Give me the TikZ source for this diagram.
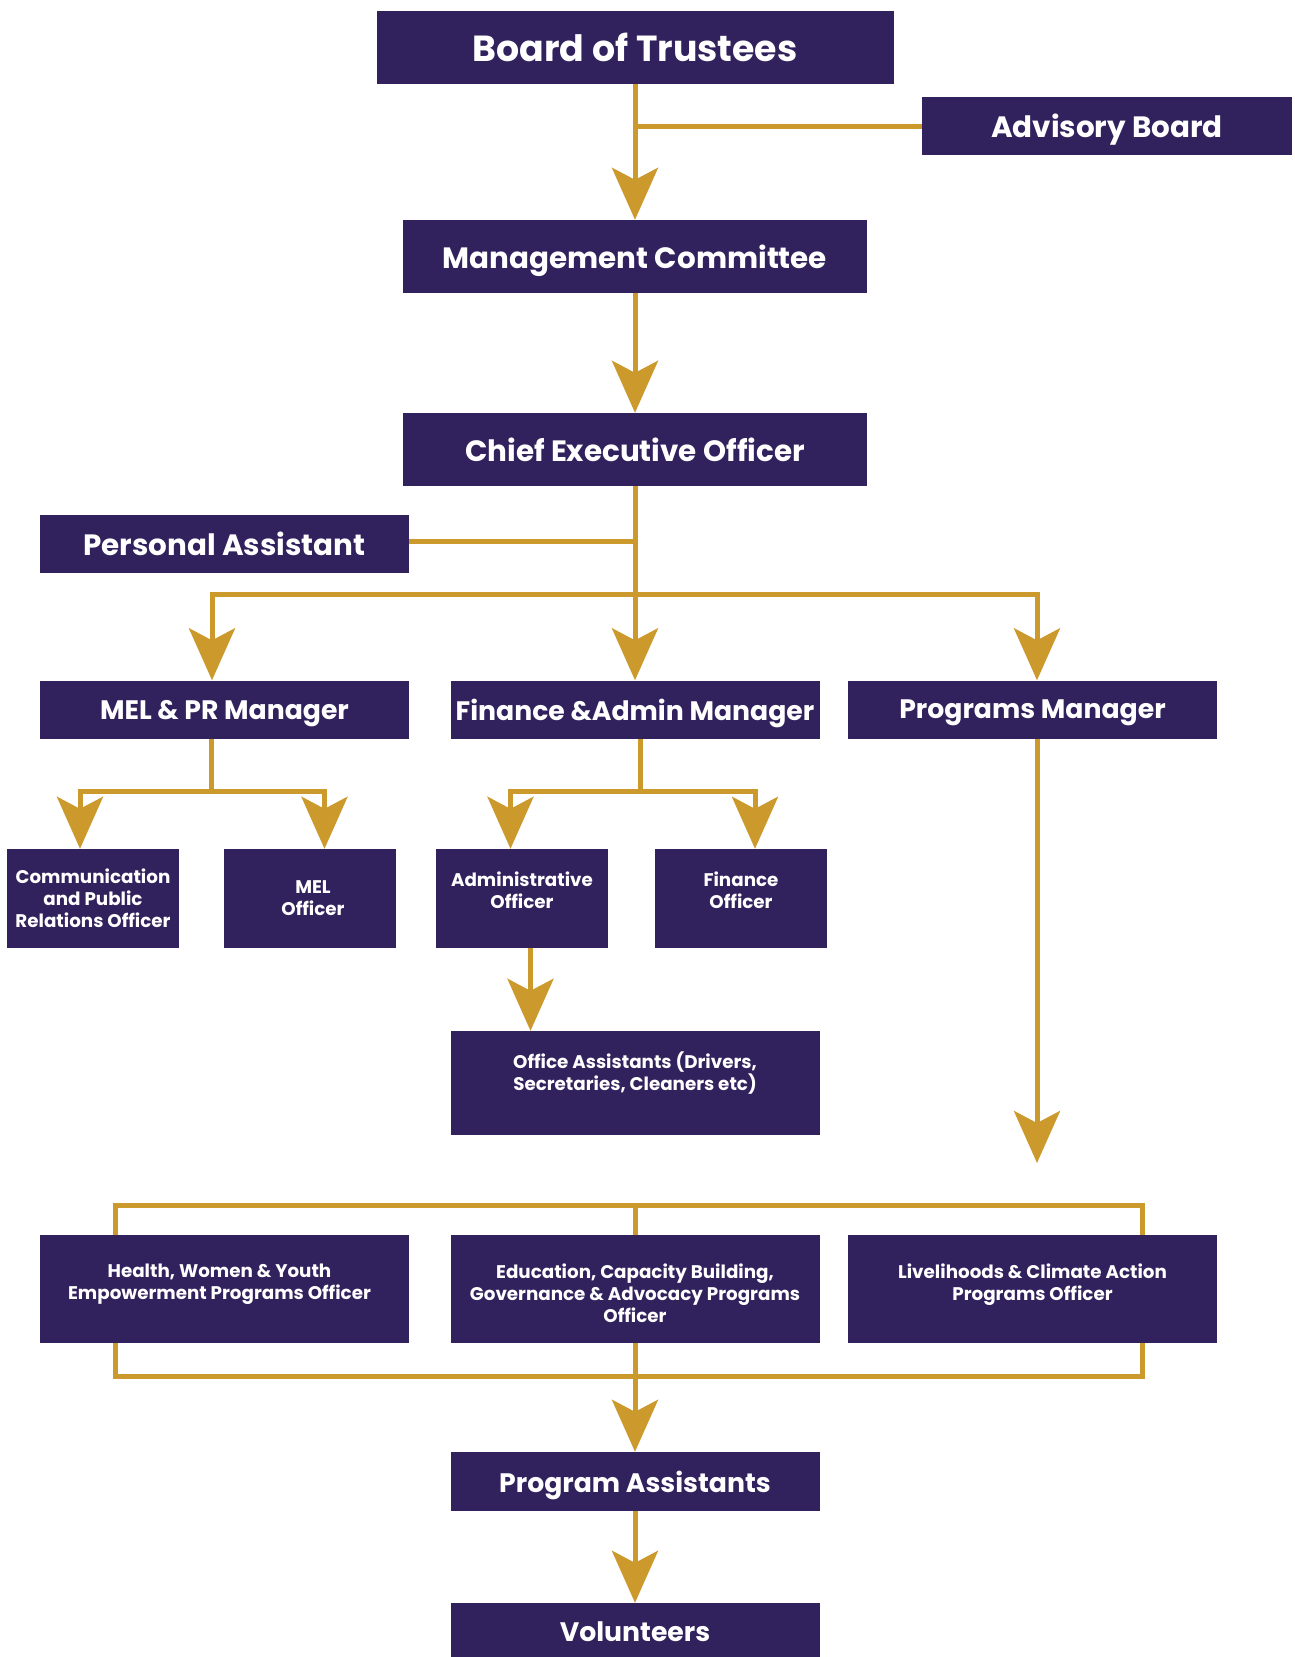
\documentclass[tikz,border=0pt]{standalone}
\usepackage{fontspec}
\setmainfont{Poppins}
\usetikzlibrary{arrows.meta,positioning}
\definecolor{trustpurple}{HTML}{31215D}
\definecolor{trustgold}{HTML}{CC9A2C}
\tikzset{
    orgbox/.style={fill=trustpurple, text=white, inner sep=0pt, align=center,
        font=\bfseries\fontsize{29.4}{34}\selectfont},
    oneline/.style={text depth=0pt},
    bigtxt/.style={font=\bfseries\fontsize{36.3}{40}\selectfont},
    mgrtxt/.style={font=\bfseries\fontsize{26.7}{31}\selectfont},
    smalltxt/.style={font=\bfseries\fontsize{18.3}{22}\selectfont},
    boxtxt/.style={text=white, inner sep=0pt, align=center,
        font=\bfseries\fontsize{18.3}{22}\selectfont},
    link/.style={draw=trustgold, line width=5pt},
    arr/.style={link, -{Stealth[length=52pt, width=46pt, inset=12pt]}}
}
\begin{document}
\begin{tikzpicture}[x=1pt, y=-1pt]
    \useasboundingbox (0,0) rectangle (1295,1657);

    % top of the tree
    \node[orgbox, oneline, bigtxt, minimum width=517, minimum height=73] (board) at (635,47) {Board of Trustees};
    \node[orgbox, oneline, minimum width=370, minimum height=58] (advisory) at (1107,126) {Advisory Board};
    \node[orgbox, oneline, minimum width=464, minimum height=73] (mgmt) at (635,256.5) {Management Committee};
    \node[orgbox, oneline, minimum width=464, minimum height=73] (ceo) at (635,449.5) {Chief Executive Officer};
    \node[orgbox, oneline, minimum width=369, minimum height=58] (pa) at (224.5,544) {Personal Assistant};

    % managers
    \node[orgbox, oneline, mgrtxt, minimum width=369, minimum height=58] (melpr) at (224.5,709.5) {MEL \& PR Manager};
    \node[orgbox, oneline, mgrtxt, minimum width=369, minimum height=58] (finadm) at (635,709.5) {Finance \&Admin Manager};
    \node[orgbox, oneline, mgrtxt, minimum width=369, minimum height=58] (progmgr) at (1032.5,709.5) {Programs Manager};

    % officers
    \node[orgbox, smalltxt, minimum width=172, minimum height=99] (comm) at (93,898.5) {Communication\\and Public\\Relations Officer};
    \node[orgbox, minimum width=172, minimum height=99] (mel) at (310,898.5) {};
    \node[boxtxt, right=3pt of mel.center, anchor=center] (meltxt) {MEL\\Officer};
    \node[orgbox, minimum width=172, minimum height=99] (admin) at (522,898.5) {};
    \node[boxtxt, below=23pt of admin.north] (admintxt) {Administrative\\Officer};
    \node[orgbox, minimum width=172, minimum height=99] (fin) at (741,898.5) {};
    \node[boxtxt, below=23pt of fin.north] (fintxt) {Finance\\Officer};
    \node[orgbox, minimum width=369, minimum height=104] (offasst) at (635,1083) {};
    \node[boxtxt, below=21pt of offasst.north] (offassttxt) {Office Assistants (Drivers,\\Secretaries, Cleaners etc)};

    % programs officers
    \node[orgbox, minimum width=369, minimum height=108] (health) at (224.5,1289) {};
    \node[boxtxt, below=29pt of health.north, xshift=-5pt] (healthtxt) {Health, Women \& Youth\\Empowerment Programs Officer};
    \node[orgbox, minimum width=369, minimum height=108] (educ) at (635,1289) {};
    \node[boxtxt, below=29pt of educ.north] (eductxt) {Education, Capacity Building,\\Governance \& Advocacy Programs\\Officer};
    \node[orgbox, minimum width=369, minimum height=108] (liveli) at (1032.5,1289) {};
    \node[boxtxt, below=29pt of liveli.north] (livelitxt) {Livelihoods \& Climate Action\\Programs Officer};

    \node[orgbox, oneline, mgrtxt, minimum width=369, minimum height=59] (progasst) at (635,1481.5) {Program Assistants};
    \node[orgbox, oneline, mgrtxt, minimum width=369, minimum height=58] (vol) at (635,1632) {Volunteers};

    % connectors
    \draw[arr] (board.south) -- (mgmt.north);
    \draw[link] (advisory.west) -- (board.south |- advisory.west);
    \draw[arr] (mgmt.south) -- (ceo.north);
    \coordinate (pajoin) at ([yshift=3pt]pa.east);
    \draw[link] (pajoin) -- (ceo.south |- pajoin);

    \coordinate (split) at (635,594);
    \draw[link] (ceo.south) -- (split);
    \draw[arr] (split) -| ([xshift=-12.5]melpr.north);
    \draw[arr] (split) -- (finadm.north);
    \draw[arr] (split) -| ([xshift=4.5]progmgr.north);

    \coordinate (melfork) at (211.5,791);
    \draw[link] ([xshift=-13]melpr.south) -- (melfork);
    \draw[arr] (melfork) -| ([xshift=-13]comm.north);
    \draw[arr] (melfork) -| ([xshift=14.5]mel.north);

    \coordinate (finfork) at (640.5,791);
    \draw[link] ([xshift=5.5]finadm.south) -- (finfork);
    \draw[arr] (finfork) -| ([xshift=-11.5]admin.north);
    \draw[arr] (finfork) -| ([xshift=14]fin.north);
    \draw[arr] ([xshift=8.5]admin.south) -- ([xshift=8.5]admin.south |- offasst.north);

    \coordinate (pmend) at (1037,1163);
    \draw[arr] ([xshift=4.5]progmgr.south) -- (pmend);

    \coordinate (brtopL) at (115,1205);
    \coordinate (brtopR) at (1142,1205);
    \draw[link] (brtopL |- health.north) -- (brtopL) -- (brtopR) -- (brtopR |- liveli.north);
    \draw[link] (educ.north) -- (educ.north |- brtopL);

    \coordinate (brbotL) at (115,1376);
    \coordinate (brbotR) at (1142,1376);
    \draw[link] (brbotL |- health.south) -- (brbotL) -- (brbotR) -- (brbotR |- liveli.south);
    \draw[arr] (educ.south) -- (progasst.north);
    \draw[arr] (progasst.south) -- (vol.north);
\end{tikzpicture}
\end{document}
